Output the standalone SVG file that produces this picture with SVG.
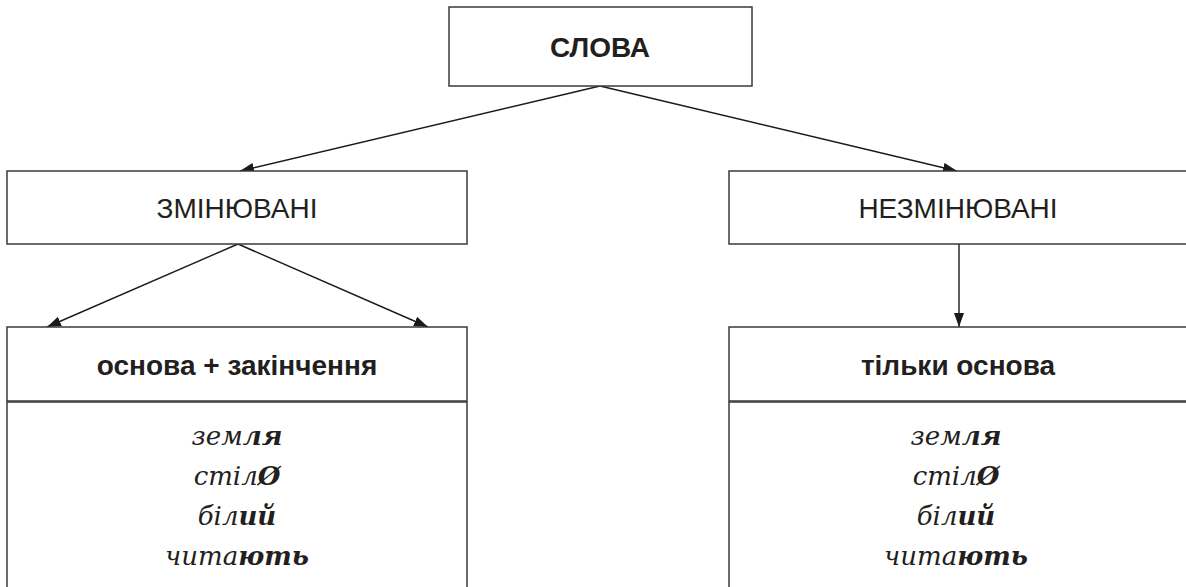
<svg xmlns="http://www.w3.org/2000/svg" width="1186" height="587" viewBox="0 0 1186 587">
  <style>
    .box { fill: #ffffff; stroke: #3a3a3a; stroke-width: 1.5; }
    .conn { stroke: #1a1a1a; stroke-width: 1.4; fill: none; marker-end: url(#arrow); }
    .hb { font-family: "Liberation Sans", Arial, sans-serif; font-weight: bold; font-size: 28px; fill: #231f20; text-anchor: middle; }
    .hr { font-family: "Liberation Sans", Arial, sans-serif; font-size: 28px; fill: #231f20; text-anchor: middle; }
    .it { font-family: "DejaVu Serif", serif; font-style: italic; font-size: 26px; fill: #231f20; text-anchor: middle; }
    .b { font-weight: bold; }
  </style>
  <defs>
    <marker id="arrow" viewBox="0 0 14 10" refX="14" refY="5" markerWidth="14" markerHeight="10" markerUnits="userSpaceOnUse" orient="auto">
      <path d="M0,0 L14,5 L0,10 Z" fill="#1a1a1a"/>
    </marker>
  </defs>
  <rect width="1186" height="587" fill="#ffffff"/>

  <g id="connectors">
    <line class="conn" x1="600" y1="86" x2="240" y2="171"/>
    <line class="conn" x1="600" y1="86" x2="957" y2="171"/>
    <line class="conn" x1="238" y1="244" x2="47" y2="327"/>
    <line class="conn" x1="238" y1="244" x2="428" y2="327"/>
    <line class="conn" x1="959" y1="244" x2="959" y2="327"/>
  </g>

  <g id="node-slova">
    <rect class="box" x="449" y="7" width="303" height="79"/>
    <text class="hb" x="600" y="57">СЛОВА</text>
  </g>

  <g id="node-zminyuvani">
    <rect class="box" x="7" y="171" width="460" height="73"/>
    <text class="hr" x="237" y="218">ЗМІНЮВАНІ</text>
  </g>

  <g id="node-nezminyuvani">
    <rect class="box" x="729" y="171" width="470" height="73"/>
    <text class="hr" x="958" y="218">НЕЗМІНЮВАНІ</text>
  </g>

  <g id="node-osnova-zakinchennya">
    <rect class="box" x="7" y="327" width="460" height="74"/>
    <text class="hb" x="237" y="375">основа + закінчення</text>
    <rect class="box" x="7" y="402" width="460" height="200"/>
    <text class="it" x="237" y="445">зем<tspan class="b">ля</tspan></text>
    <text class="it" x="237" y="485">стіл<tspan class="b">Ø</tspan></text>
    <text class="it" x="237" y="525">біл<tspan class="b">ий</tspan></text>
    <text class="it" x="237" y="565">чита<tspan class="b">ють</tspan></text>
  </g>

  <g id="node-tilky-osnova">
    <rect class="box" x="729" y="327" width="470" height="74"/>
    <text class="hb" x="958" y="375">тільки основа</text>
    <rect class="box" x="729" y="402" width="470" height="200"/>
    <text class="it" x="956" y="445">зем<tspan class="b">ля</tspan></text>
    <text class="it" x="956" y="485">стіл<tspan class="b">Ø</tspan></text>
    <text class="it" x="956" y="525">біл<tspan class="b">ий</tspan></text>
    <text class="it" x="956" y="565">чита<tspan class="b">ють</tspan></text>
  </g>
</svg>
